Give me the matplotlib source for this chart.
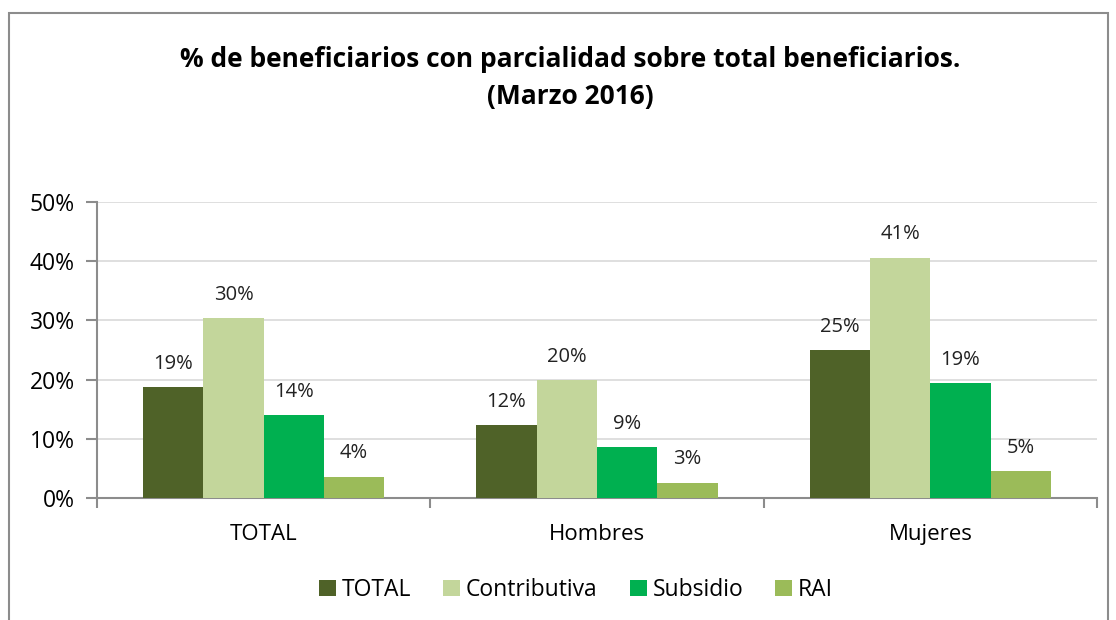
import numpy as np
import matplotlib.pyplot as plt
from matplotlib.patches import Rectangle
from matplotlib.ticker import FuncFormatter

plt.rcParams['font.family'] = ['Open Sans', 'DejaVu Sans']

# --- data ---
categories = ["TOTAL", "Hombres", "Mujeres"]
series_names = ["TOTAL", "Contributiva", "Subsidio", "RAI"]
total_vals = [18.8, 12.3, 25.0]
contrib_vals = [30.4, 19.9, 40.6]
subsidio_vals = [14.0, 8.6, 19.4]
rai_vals = [3.6, 2.6, 4.6]
colors = ["#4f6228", "#c3d69b", "#00b050", "#9bbb59"]

fig = plt.figure(figsize=(11.16, 6.2), dpi=100)

# outer chart frame
fig.patches.append(Rectangle((9 / 1116, -0.05), 1099 / 1116, 1.05 - 13 / 620,
                             transform=fig.transFigure, fill=False,
                             edgecolor="#8c8c8c", linewidth=1.5))

ax = fig.add_axes([97 / 1116, 1 - 498 / 620, 1000 / 1116, 296 / 620])

x = np.arange(len(categories))
w = 0.181
all_series = [total_vals, contrib_vals, subsidio_vals, rai_vals]
for i, (vals, name, c) in enumerate(zip(all_series, series_names, colors)):
    bars = ax.bar(x + (i - 1.5) * w, vals, w, color=c, label=name, zorder=3)
    for b, v in zip(bars, vals):
        ax.annotate(f"{v:.0f}%", (b.get_x() + b.get_width() / 2, v),
                    xytext=(0, 9.5), textcoords="offset points",
                    ha="center", va="bottom", fontsize=14.5, color="#222222")

ax.set_xlim(-0.5, 2.5)
ax.set_ylim(0, 50)
ax.set_yticks(range(0, 51, 10))
ax.yaxis.set_major_formatter(FuncFormatter(lambda v, p: f"{v:.0f}%"))
ax.grid(axis="y", color="#d9d9d9", linewidth=1.2, zorder=0)

ax.set_xticks(x)
ax.set_xticklabels(categories)
ax.set_xticks([-0.5, 0.5, 1.5, 2.5], minor=True)
ax.tick_params(axis="x", which="major", length=0, pad=19, labelsize=16)
ax.tick_params(axis="x", which="minor", length=7, width=1.5, color="#8c8c8c")
ax.tick_params(axis="y", length=8, width=1.5, color="#8c8c8c", labelsize=16.5, pad=8)

for side in ["top", "right"]:
    ax.spines[side].set_visible(False)
for side in ["left", "bottom"]:
    ax.spines[side].set_color("#8c8c8c")
    ax.spines[side].set_linewidth(1.5)

fig.text(0.511, 1 - 78 / 620,
         "% de beneficiarios con parcialidad sobre total beneficiarios.\n(Marzo 2016)",
         ha="center", va="center", fontsize=19, fontweight="bold",
         linespacing=1.45)

fig.legend(loc="center", bbox_to_anchor=(0.516, 1 - 590 / 620), ncol=4,
           frameon=False, fontsize=16.5, handlelength=0.75, handleheight=0.75,
           handletextpad=0.25, columnspacing=1.4)

fig.savefig("out.png", dpi=100)
